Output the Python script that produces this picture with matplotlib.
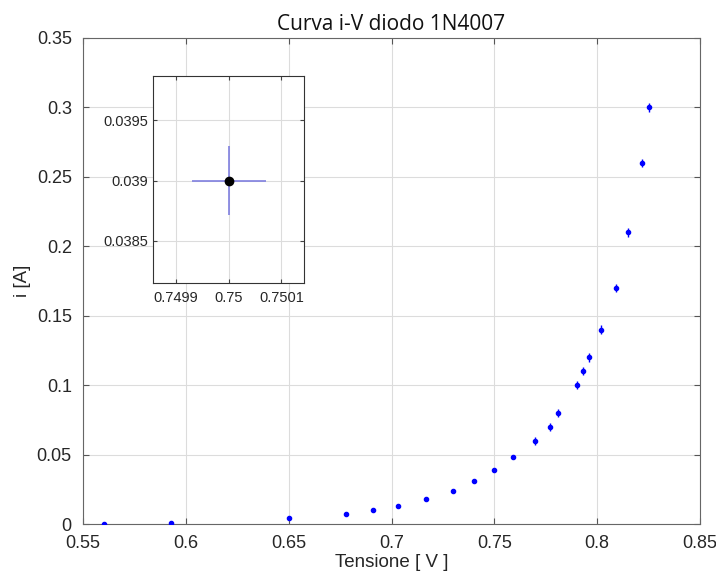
import matplotlib
matplotlib.use("Agg")
import matplotlib.pyplot as plt

# measured points (V, A) with uncertainties
tensione = [0.560, 0.593, 0.650, 0.678, 0.691, 0.703, 0.717, 0.730, 0.740, 0.750,
            0.759, 0.770, 0.777, 0.781, 0.790, 0.793, 0.796, 0.802, 0.809, 0.815,
            0.822, 0.825]
corrente = [0.0, 0.001, 0.004, 0.007, 0.010, 0.013, 0.018, 0.024, 0.031, 0.039,
            0.048, 0.060, 0.070, 0.080, 0.100, 0.110, 0.120, 0.140, 0.170, 0.210,
            0.260, 0.300]
err_i = [0.0001, 0.0001, 0.0001, 0.0001, 0.0002, 0.0002, 0.0002, 0.0003, 0.0003, 0.0003,
         0.0005, 0.003, 0.003, 0.003, 0.003, 0.003, 0.003, 0.003, 0.003, 0.003,
         0.003, 0.003]
err_v = [0.00007] * len(tensione)

# zoomed point in the inset
v_zoom = [0.75]
i_zoom = [0.039]
ev_zoom = [0.00007]
ei_zoom = [0.00029]

plt.rcParams["font.family"] = ["Liberation Sans", "DejaVu Sans"]

fig = plt.figure(figsize=(7.16, 5.81), dpi=100)
ax = fig.add_axes([0.1159, 0.0981, 0.8618, 0.8365])

ax.errorbar(tensione, corrente, yerr=err_i, xerr=err_v, fmt="o", color="#0000ff",
            markersize=3.0, elinewidth=1.0, capsize=0, zorder=3)
ax.set_xlim(0.55, 0.85)
ax.set_ylim(0, 0.35)
ax.set_xticks([0.55, 0.6, 0.65, 0.7, 0.75, 0.8, 0.85])
ax.set_xticklabels(["0.55", "0.6", "0.65", "0.7", "0.75", "0.8", "0.85"])
ax.set_yticks([0, 0.05, 0.1, 0.15, 0.2, 0.25, 0.3, 0.35])
ax.set_yticklabels(["0", "0.05", "0.1", "0.15", "0.2", "0.25", "0.3", "0.35"])
ax.grid(True, color="#dcdcdc", linewidth=0.8)
ax.set_axisbelow(True)
ax.tick_params(direction="in", top=True, right=True, labelsize=13,
               colors="#262626", length=4, color="#555555")
ax.tick_params(axis="x", pad=8)
ax.tick_params(axis="y", pad=8)
for s in ax.spines.values():
    s.set_color("#666666")
ax.set_xlabel("Tensione [ V ]", fontsize=13.5, color="#262626", labelpad=1)
ax.set_ylabel("i [A]", fontsize=13.5, color="#262626", labelpad=4)
ax.set_title("Curva i-V diodo 1N4007", fontsize=15, color="#111111", pad=6,
             family=["Open Sans", "DejaVu Sans"])

ins = fig.add_axes([0.2133, 0.5134, 0.2113, 0.3558])
ins.errorbar(v_zoom, i_zoom, yerr=ei_zoom, xerr=ev_zoom, fmt="o", color="black",
             ecolor="#7f7fdf", markersize=6, elinewidth=1.2, capsize=0, zorder=3)
ins.set_xlim(0.749856, 0.750143)
ins.set_ylim(0.03815, 0.03987)
ins.set_xticks([0.7499, 0.75, 0.7501])
ins.set_xticklabels(["0.7499", "0.75", "0.7501"])
ins.set_yticks([0.0385, 0.039, 0.0395])
ins.set_yticklabels(["0.0385", "0.039", "0.0395"])
ins.grid(True, color="#dcdcdc", linewidth=0.8)
ins.set_axisbelow(True)
ins.tick_params(direction="in", top=True, right=True, labelsize=10.5,
                colors="#262626", length=3, color="#444444")
ins.tick_params(axis="x", pad=6)
for s in ins.spines.values():
    s.set_color("#333333")

fig.savefig("out.png", dpi=100)
